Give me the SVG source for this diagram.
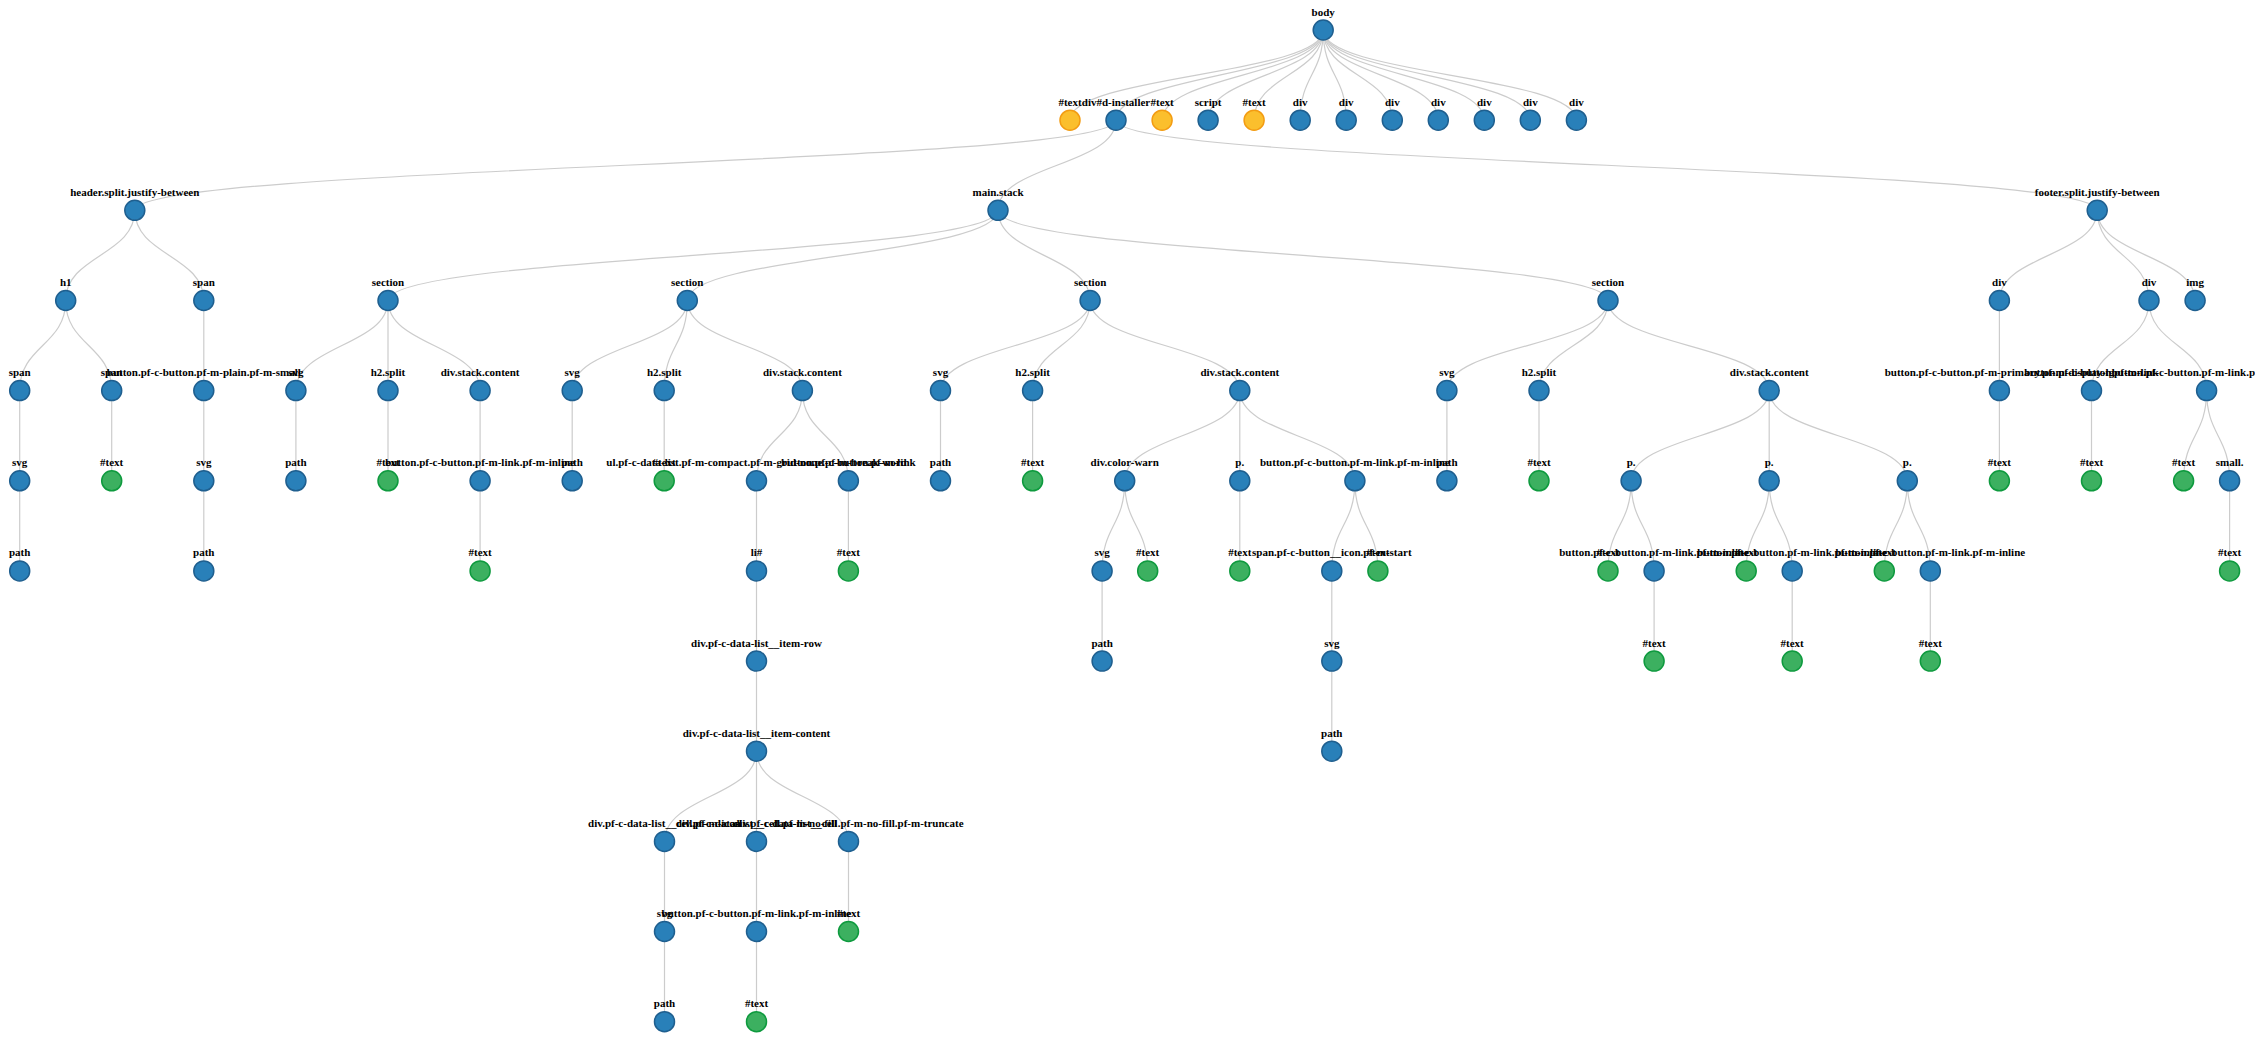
<svg xmlns="http://www.w3.org/2000/svg" width="2255" height="1037" viewBox="0 0 2255 1037">
<style>
.lk path{fill:none;stroke:#cccccc;stroke-width:1.2}
circle{stroke-width:1.5}
.b circle{fill:#2980b9;stroke:#1f5f8f}
.y circle{fill:#fbbf2d;stroke:#f39c12}
.g circle{fill:#3cb060;stroke:#0e9a3e}
text{font-family:"Liberation Serif","Times New Roman",serif;font-weight:bold;font-size:11px;fill:#000;text-anchor:middle}
</style>
<rect width="2255" height="1037" fill="#ffffff"/>
<g class="lk" id="connectors">
<path d="M1323.2,30C1323.2,75.1 1070,75.1 1070,120.2"/>
<path d="M1323.2,30C1323.2,75.1 1116,75.1 1116,120.2"/>
<path d="M1323.2,30C1323.2,75.1 1162.1,75.1 1162.1,120.2"/>
<path d="M1323.2,30C1323.2,75.1 1208.1,75.1 1208.1,120.2"/>
<path d="M1323.2,30C1323.2,75.1 1254.1,75.1 1254.1,120.2"/>
<path d="M1323.2,30C1323.2,75.1 1300.2,75.1 1300.2,120.2"/>
<path d="M1323.2,30C1323.2,75.1 1346.2,75.1 1346.2,120.2"/>
<path d="M1323.2,30C1323.2,75.1 1392.3,75.1 1392.3,120.2"/>
<path d="M1323.2,30C1323.2,75.1 1438.3,75.1 1438.3,120.2"/>
<path d="M1323.2,30C1323.2,75.1 1484.3,75.1 1484.3,120.2"/>
<path d="M1323.2,30C1323.2,75.1 1530.3,75.1 1530.3,120.2"/>
<path d="M1323.2,30C1323.2,75.1 1576.4,75.1 1576.4,120.2"/>
<path d="M1116,120.2C1116,165.25 134.8,165.25 134.8,210.3"/>
<path d="M1116,120.2C1116,165.25 998,165.25 998,210.3"/>
<path d="M1116,120.2C1116,165.25 2097.2,165.25 2097.2,210.3"/>
<path d="M134.8,210.3C134.8,255.4 65.7,255.4 65.7,300.5"/>
<path d="M134.8,210.3C134.8,255.4 203.8,255.4 203.8,300.5"/>
<path d="M998,210.3C998,255.4 388,255.4 388,300.5"/>
<path d="M998,210.3C998,255.4 687.3,255.4 687.3,300.5"/>
<path d="M998,210.3C998,255.4 1090.1,255.4 1090.1,300.5"/>
<path d="M998,210.3C998,255.4 1608,255.4 1608,300.5"/>
<path d="M2097.2,210.3C2097.2,255.4 1999.4,255.4 1999.4,300.5"/>
<path d="M2097.2,210.3C2097.2,255.4 2149,255.4 2149,300.5"/>
<path d="M2097.2,210.3C2097.2,255.4 2195.1,255.4 2195.1,300.5"/>
<path d="M65.7,300.5C65.7,345.55 19.7,345.55 19.7,390.6"/>
<path d="M65.7,300.5C65.7,345.55 111.7,345.55 111.7,390.6"/>
<path d="M203.8,300.5V390.6"/>
<path d="M388,300.5C388,345.55 295.9,345.55 295.9,390.6"/>
<path d="M388,300.5V390.6"/>
<path d="M388,300.5C388,345.55 480.1,345.55 480.1,390.6"/>
<path d="M687.3,300.5C687.3,345.55 572.2,345.55 572.2,390.6"/>
<path d="M687.3,300.5C687.3,345.55 664.2,345.55 664.2,390.6"/>
<path d="M687.3,300.5C687.3,345.55 802.4,345.55 802.4,390.6"/>
<path d="M1090.1,300.5C1090.1,345.55 940.5,345.55 940.5,390.6"/>
<path d="M1090.1,300.5C1090.1,345.55 1032.6,345.55 1032.6,390.6"/>
<path d="M1090.1,300.5C1090.1,345.55 1239.8,345.55 1239.8,390.6"/>
<path d="M1608,300.5C1608,345.55 1446.9,345.55 1446.9,390.6"/>
<path d="M1608,300.5C1608,345.55 1539,345.55 1539,390.6"/>
<path d="M1608,300.5C1608,345.55 1769.2,345.55 1769.2,390.6"/>
<path d="M1999.4,300.5V390.6"/>
<path d="M2149,300.5C2149,345.55 2091.5,345.55 2091.5,390.6"/>
<path d="M2149,300.5C2149,345.55 2206.6,345.55 2206.6,390.6"/>
<path d="M19.7,390.6V480.8"/>
<path d="M111.7,390.6V480.8"/>
<path d="M203.8,390.6V480.8"/>
<path d="M295.9,390.6V480.8"/>
<path d="M388,390.6V480.8"/>
<path d="M480.1,390.6V480.8"/>
<path d="M572.2,390.6V480.8"/>
<path d="M664.2,390.6V480.8"/>
<path d="M802.4,390.6C802.4,435.7 756.5,435.7 756.5,480.8"/>
<path d="M802.4,390.6C802.4,435.7 848.4,435.7 848.4,480.8"/>
<path d="M940.5,390.6V480.8"/>
<path d="M1032.6,390.6V480.8"/>
<path d="M1239.8,390.6C1239.8,435.7 1124.7,435.7 1124.7,480.8"/>
<path d="M1239.8,390.6V480.8"/>
<path d="M1239.8,390.6C1239.8,435.7 1354.9,435.7 1354.9,480.8"/>
<path d="M1446.9,390.6V480.8"/>
<path d="M1539,390.6V480.8"/>
<path d="M1769.2,390.6C1769.2,435.7 1631.1,435.7 1631.1,480.8"/>
<path d="M1769.2,390.6V480.8"/>
<path d="M1769.2,390.6C1769.2,435.7 1907.3,435.7 1907.3,480.8"/>
<path d="M1999.4,390.6V480.8"/>
<path d="M2091.5,390.6V480.8"/>
<path d="M2206.6,390.6C2206.6,435.7 2183.6,435.7 2183.6,480.8"/>
<path d="M2206.6,390.6C2206.6,435.7 2229.6,435.7 2229.6,480.8"/>
<path d="M19.7,480.8V570.9"/>
<path d="M203.8,480.8V570.9"/>
<path d="M480.1,480.8V570.9"/>
<path d="M756.5,480.8V570.9"/>
<path d="M848.4,480.8V570.9"/>
<path d="M1124.7,480.8C1124.7,525.85 1102.1,525.85 1102.1,570.9"/>
<path d="M1124.7,480.8C1124.7,525.85 1147.7,525.85 1147.7,570.9"/>
<path d="M1239.8,480.8V570.9"/>
<path d="M1354.9,480.8C1354.9,525.85 1331.8,525.85 1331.8,570.9"/>
<path d="M1354.9,480.8C1354.9,525.85 1377.9,525.85 1377.9,570.9"/>
<path d="M1631.1,480.8C1631.1,525.85 1608,525.85 1608,570.9"/>
<path d="M1631.1,480.8C1631.1,525.85 1654.1,525.85 1654.1,570.9"/>
<path d="M1769.2,480.8C1769.2,525.85 1746.2,525.85 1746.2,570.9"/>
<path d="M1769.2,480.8C1769.2,525.85 1792.2,525.85 1792.2,570.9"/>
<path d="M1907.3,480.8C1907.3,525.85 1884.3,525.85 1884.3,570.9"/>
<path d="M1907.3,480.8C1907.3,525.85 1930.3,525.85 1930.3,570.9"/>
<path d="M2229.6,480.8V570.9"/>
<path d="M756.5,570.9V661.1"/>
<path d="M1102.1,570.9V661.1"/>
<path d="M1331.8,570.9V661.1"/>
<path d="M1654.1,570.9V661.1"/>
<path d="M1792.2,570.9V661.1"/>
<path d="M1930.3,570.9V661.1"/>
<path d="M756.5,661.1V751.2"/>
<path d="M1331.8,661.1V751.2"/>
<path d="M756.5,751.2C756.5,796.3 664.5,796.3 664.5,841.4"/>
<path d="M756.5,751.2V841.4"/>
<path d="M756.5,751.2C756.5,796.3 848.5,796.3 848.5,841.4"/>
<path d="M664.5,841.4V931.5"/>
<path d="M756.5,841.4V931.5"/>
<path d="M848.5,841.4V931.5"/>
<path d="M664.5,931.5V1021.7"/>
<path d="M756.5,931.5V1021.7"/>
</g>
<g id="n-body" class="b"><circle cx="1323.2" cy="30" r="10"/><text x="1323.2" y="15.5">body</text></g>
<g id="n-text1" class="y"><circle cx="1070" cy="120.2" r="10"/><text x="1070" y="105.7">#text</text></g>
<g id="n-dinstaller" class="b"><circle cx="1116" cy="120.2" r="10"/><text x="1116" y="105.7">div#d-installer</text></g>
<g id="n-text2" class="y"><circle cx="1162.1" cy="120.2" r="10"/><text x="1162.1" y="105.7">#text</text></g>
<g id="n-script" class="b"><circle cx="1208.1" cy="120.2" r="10"/><text x="1208.1" y="105.7">script</text></g>
<g id="n-text3" class="y"><circle cx="1254.1" cy="120.2" r="10"/><text x="1254.1" y="105.7">#text</text></g>
<g id="n-div1" class="b"><circle cx="1300.2" cy="120.2" r="10"/><text x="1300.2" y="105.7">div</text></g>
<g id="n-div2" class="b"><circle cx="1346.2" cy="120.2" r="10"/><text x="1346.2" y="105.7">div</text></g>
<g id="n-div3" class="b"><circle cx="1392.3" cy="120.2" r="10"/><text x="1392.3" y="105.7">div</text></g>
<g id="n-div4" class="b"><circle cx="1438.3" cy="120.2" r="10"/><text x="1438.3" y="105.7">div</text></g>
<g id="n-div5" class="b"><circle cx="1484.3" cy="120.2" r="10"/><text x="1484.3" y="105.7">div</text></g>
<g id="n-div6" class="b"><circle cx="1530.3" cy="120.2" r="10"/><text x="1530.3" y="105.7">div</text></g>
<g id="n-div7" class="b"><circle cx="1576.4" cy="120.2" r="10"/><text x="1576.4" y="105.7">div</text></g>
<g id="n-header" class="b"><circle cx="134.8" cy="210.3" r="10"/><text x="134.8" y="195.8">header.split.justify-between</text></g>
<g id="n-main" class="b"><circle cx="998" cy="210.3" r="10"/><text x="998" y="195.8">main.stack</text></g>
<g id="n-footer" class="b"><circle cx="2097.2" cy="210.3" r="10"/><text x="2097.2" y="195.8">footer.split.justify-between</text></g>
<g id="n-h1" class="b"><circle cx="65.7" cy="300.5" r="10"/><text x="65.7" y="286">h1</text></g>
<g id="n-hspan" class="b"><circle cx="203.8" cy="300.5" r="10"/><text x="203.8" y="286">span</text></g>
<g id="n-sec1" class="b"><circle cx="388" cy="300.5" r="10"/><text x="388" y="286">section</text></g>
<g id="n-sec2" class="b"><circle cx="687.3" cy="300.5" r="10"/><text x="687.3" y="286">section</text></g>
<g id="n-sec3" class="b"><circle cx="1090.1" cy="300.5" r="10"/><text x="1090.1" y="286">section</text></g>
<g id="n-sec4" class="b"><circle cx="1608" cy="300.5" r="10"/><text x="1608" y="286">section</text></g>
<g id="n-fdiv1" class="b"><circle cx="1999.4" cy="300.5" r="10"/><text x="1999.4" y="286">div</text></g>
<g id="n-fdiv2" class="b"><circle cx="2149" cy="300.5" r="10"/><text x="2149" y="286">div</text></g>
<g id="n-img" class="b"><circle cx="2195.1" cy="300.5" r="10"/><text x="2195.1" y="286">img</text></g>
<g id="n-span1" class="b"><circle cx="19.7" cy="390.6" r="10"/><text x="19.7" y="376.1">span</text></g>
<g id="n-span2" class="b"><circle cx="111.7" cy="390.6" r="10"/><text x="111.7" y="376.1">span</text></g>
<g id="n-btnplain" class="b"><circle cx="203.8" cy="390.6" r="10"/><text x="203.8" y="376.1">button.pf-c-button.pf-m-plain.pf-m-small</text></g>
<g id="n-s1svg" class="b"><circle cx="295.9" cy="390.6" r="10"/><text x="295.9" y="376.1">svg</text></g>
<g id="n-s1h2" class="b"><circle cx="388" cy="390.6" r="10"/><text x="388" y="376.1">h2.split</text></g>
<g id="n-s1div" class="b"><circle cx="480.1" cy="390.6" r="10"/><text x="480.1" y="376.1">div.stack.content</text></g>
<g id="n-s2svg" class="b"><circle cx="572.2" cy="390.6" r="10"/><text x="572.2" y="376.1">svg</text></g>
<g id="n-s2h2" class="b"><circle cx="664.2" cy="390.6" r="10"/><text x="664.2" y="376.1">h2.split</text></g>
<g id="n-s2div" class="b"><circle cx="802.4" cy="390.6" r="10"/><text x="802.4" y="376.1">div.stack.content</text></g>
<g id="n-s3svg" class="b"><circle cx="940.5" cy="390.6" r="10"/><text x="940.5" y="376.1">svg</text></g>
<g id="n-s3h2" class="b"><circle cx="1032.6" cy="390.6" r="10"/><text x="1032.6" y="376.1">h2.split</text></g>
<g id="n-s3div" class="b"><circle cx="1239.8" cy="390.6" r="10"/><text x="1239.8" y="376.1">div.stack.content</text></g>
<g id="n-s4svg" class="b"><circle cx="1446.9" cy="390.6" r="10"/><text x="1446.9" y="376.1">svg</text></g>
<g id="n-s4h2" class="b"><circle cx="1539" cy="390.6" r="10"/><text x="1539" y="376.1">h2.split</text></g>
<g id="n-s4div" class="b"><circle cx="1769.2" cy="390.6" r="10"/><text x="1769.2" y="376.1">div.stack.content</text></g>
<g id="n-fbtn1" class="b"><circle cx="1999.4" cy="390.6" r="10"/><text x="1999.4" y="376.1">button.pf-c-button.pf-m-primary.pf-m-display-lg</text></g>
<g id="n-fbtn2" class="b"><circle cx="2091.5" cy="390.6" r="10"/><text x="2091.5" y="376.1">button.pf-c-button.pf-m-link</text></g>
<g id="n-fbtn3" class="b"><circle cx="2206.6" cy="390.6" r="10"/><text x="2206.6" y="376.1">button.pf-c-button.pf-m-link.pf-m-inline</text></g>
<g id="n-svg1" class="b"><circle cx="19.7" cy="480.8" r="10"/><text x="19.7" y="466.3">svg</text></g>
<g id="n-t-span2" class="g"><circle cx="111.7" cy="480.8" r="10"/><text x="111.7" y="466.3">#text</text></g>
<g id="n-svg2" class="b"><circle cx="203.8" cy="480.8" r="10"/><text x="203.8" y="466.3">svg</text></g>
<g id="n-s1path" class="b"><circle cx="295.9" cy="480.8" r="10"/><text x="295.9" y="466.3">path</text></g>
<g id="n-s1h2t" class="g"><circle cx="388" cy="480.8" r="10"/><text x="388" y="466.3">#text</text></g>
<g id="n-s1btn" class="b"><circle cx="480.1" cy="480.8" r="10"/><text x="480.1" y="466.3">button.pf-c-button.pf-m-link.pf-m-inline</text></g>
<g id="n-s2path" class="b"><circle cx="572.2" cy="480.8" r="10"/><text x="572.2" y="466.3">path</text></g>
<g id="n-s2h2t" class="g"><circle cx="664.2" cy="480.8" r="10"/><text x="664.2" y="466.3">#text</text></g>
<g id="n-ul" class="b"><circle cx="756.5" cy="480.8" r="10"/><text x="756.5" y="466.3">ul.pf-c-data-list.pf-m-compact.pf-m-grid-none.pf-m-break-word</text></g>
<g id="n-s2btn" class="b"><circle cx="848.4" cy="480.8" r="10"/><text x="848.4" y="466.3">button.pf-c-button.pf-m-link</text></g>
<g id="n-s3path" class="b"><circle cx="940.5" cy="480.8" r="10"/><text x="940.5" y="466.3">path</text></g>
<g id="n-s3h2t" class="g"><circle cx="1032.6" cy="480.8" r="10"/><text x="1032.6" y="466.3">#text</text></g>
<g id="n-warn" class="b"><circle cx="1124.7" cy="480.8" r="10"/><text x="1124.7" y="466.3">div.color-warn</text></g>
<g id="n-s3p" class="b"><circle cx="1239.8" cy="480.8" r="10"/><text x="1239.8" y="466.3">p.</text></g>
<g id="n-s3btn" class="b"><circle cx="1354.9" cy="480.8" r="10"/><text x="1354.9" y="466.3">button.pf-c-button.pf-m-link.pf-m-inline</text></g>
<g id="n-s4path" class="b"><circle cx="1446.9" cy="480.8" r="10"/><text x="1446.9" y="466.3">path</text></g>
<g id="n-s4h2t" class="g"><circle cx="1539" cy="480.8" r="10"/><text x="1539" y="466.3">#text</text></g>
<g id="n-p1" class="b"><circle cx="1631.1" cy="480.8" r="10"/><text x="1631.1" y="466.3">p.</text></g>
<g id="n-p2" class="b"><circle cx="1769.2" cy="480.8" r="10"/><text x="1769.2" y="466.3">p.</text></g>
<g id="n-p3" class="b"><circle cx="1907.3" cy="480.8" r="10"/><text x="1907.3" y="466.3">p.</text></g>
<g id="n-fbtn1t" class="g"><circle cx="1999.4" cy="480.8" r="10"/><text x="1999.4" y="466.3">#text</text></g>
<g id="n-fbtn2t" class="g"><circle cx="2091.5" cy="480.8" r="10"/><text x="2091.5" y="466.3">#text</text></g>
<g id="n-fbtn3t" class="g"><circle cx="2183.6" cy="480.8" r="10"/><text x="2183.6" y="466.3">#text</text></g>
<g id="n-small" class="b"><circle cx="2229.6" cy="480.8" r="10"/><text x="2229.6" y="466.3">small.</text></g>
<g id="n-path1" class="b"><circle cx="19.7" cy="570.9" r="10"/><text x="19.7" y="556.4">path</text></g>
<g id="n-path2" class="b"><circle cx="203.8" cy="570.9" r="10"/><text x="203.8" y="556.4">path</text></g>
<g id="n-s1btnt" class="g"><circle cx="480.1" cy="570.9" r="10"/><text x="480.1" y="556.4">#text</text></g>
<g id="n-li" class="b"><circle cx="756.5" cy="570.9" r="10"/><text x="756.5" y="556.4">li#</text></g>
<g id="n-s2btnt" class="g"><circle cx="848.4" cy="570.9" r="10"/><text x="848.4" y="556.4">#text</text></g>
<g id="n-warnsvg" class="b"><circle cx="1102.1" cy="570.9" r="10"/><text x="1102.1" y="556.4">svg</text></g>
<g id="n-warnt" class="g"><circle cx="1147.7" cy="570.9" r="10"/><text x="1147.7" y="556.4">#text</text></g>
<g id="n-s3pt" class="g"><circle cx="1239.8" cy="570.9" r="10"/><text x="1239.8" y="556.4">#text</text></g>
<g id="n-icon" class="b"><circle cx="1331.8" cy="570.9" r="10"/><text x="1331.8" y="556.4">span.pf-c-button__icon.pf-m-start</text></g>
<g id="n-s3btnt" class="g"><circle cx="1377.9" cy="570.9" r="10"/><text x="1377.9" y="556.4">#text</text></g>
<g id="n-p1t" class="g"><circle cx="1608" cy="570.9" r="10"/><text x="1608" y="556.4">#text</text></g>
<g id="n-p1btn" class="b"><circle cx="1654.1" cy="570.9" r="10"/><text x="1654.1" y="556.4">button.pf-c-button.pf-m-link.pf-m-inline</text></g>
<g id="n-p2t" class="g"><circle cx="1746.2" cy="570.9" r="10"/><text x="1746.2" y="556.4">#text</text></g>
<g id="n-p2btn" class="b"><circle cx="1792.2" cy="570.9" r="10"/><text x="1792.2" y="556.4">button.pf-c-button.pf-m-link.pf-m-inline</text></g>
<g id="n-p3t" class="g"><circle cx="1884.3" cy="570.9" r="10"/><text x="1884.3" y="556.4">#text</text></g>
<g id="n-p3btn" class="b"><circle cx="1930.3" cy="570.9" r="10"/><text x="1930.3" y="556.4">button.pf-c-button.pf-m-link.pf-m-inline</text></g>
<g id="n-smallt" class="g"><circle cx="2229.6" cy="570.9" r="10"/><text x="2229.6" y="556.4">#text</text></g>
<g id="n-row" class="b"><circle cx="756.5" cy="661.1" r="10"/><text x="756.5" y="646.6">div.pf-c-data-list__item-row</text></g>
<g id="n-warnpath" class="b"><circle cx="1102.1" cy="661.1" r="10"/><text x="1102.1" y="646.6">path</text></g>
<g id="n-iconsvg" class="b"><circle cx="1331.8" cy="661.1" r="10"/><text x="1331.8" y="646.6">svg</text></g>
<g id="n-p1btnt" class="g"><circle cx="1654.1" cy="661.1" r="10"/><text x="1654.1" y="646.6">#text</text></g>
<g id="n-p2btnt" class="g"><circle cx="1792.2" cy="661.1" r="10"/><text x="1792.2" y="646.6">#text</text></g>
<g id="n-p3btnt" class="g"><circle cx="1930.3" cy="661.1" r="10"/><text x="1930.3" y="646.6">#text</text></g>
<g id="n-content" class="b"><circle cx="756.5" cy="751.2" r="10"/><text x="756.5" y="736.7">div.pf-c-data-list__item-content</text></g>
<g id="n-iconpath" class="b"><circle cx="1331.8" cy="751.2" r="10"/><text x="1331.8" y="736.7">path</text></g>
<g id="n-cell1" class="b"><circle cx="664.5" cy="841.4" r="10"/><text x="664.5" y="826.9">div.pf-c-data-list__cell.pf-m-icon</text></g>
<g id="n-cell2" class="b"><circle cx="756.5" cy="841.4" r="10"/><text x="756.5" y="826.9">div.pf-c-data-list__cell.pf-m-no-fill</text></g>
<g id="n-cell3" class="b"><circle cx="848.5" cy="841.4" r="10"/><text x="848.5" y="826.9">div.pf-c-data-list__cell.pf-m-no-fill.pf-m-truncate</text></g>
<g id="n-cellsvg" class="b"><circle cx="664.5" cy="931.5" r="10"/><text x="664.5" y="917">svg</text></g>
<g id="n-cellbtn" class="b"><circle cx="756.5" cy="931.5" r="10"/><text x="756.5" y="917">button.pf-c-button.pf-m-link.pf-m-inline</text></g>
<g id="n-cell3t" class="g"><circle cx="848.5" cy="931.5" r="10"/><text x="848.5" y="917">#text</text></g>
<g id="n-cellpath" class="b"><circle cx="664.5" cy="1021.7" r="10"/><text x="664.5" y="1007.2">path</text></g>
<g id="n-cellbtnt" class="g"><circle cx="756.5" cy="1021.7" r="10"/><text x="756.5" y="1007.2">#text</text></g>
</svg>
